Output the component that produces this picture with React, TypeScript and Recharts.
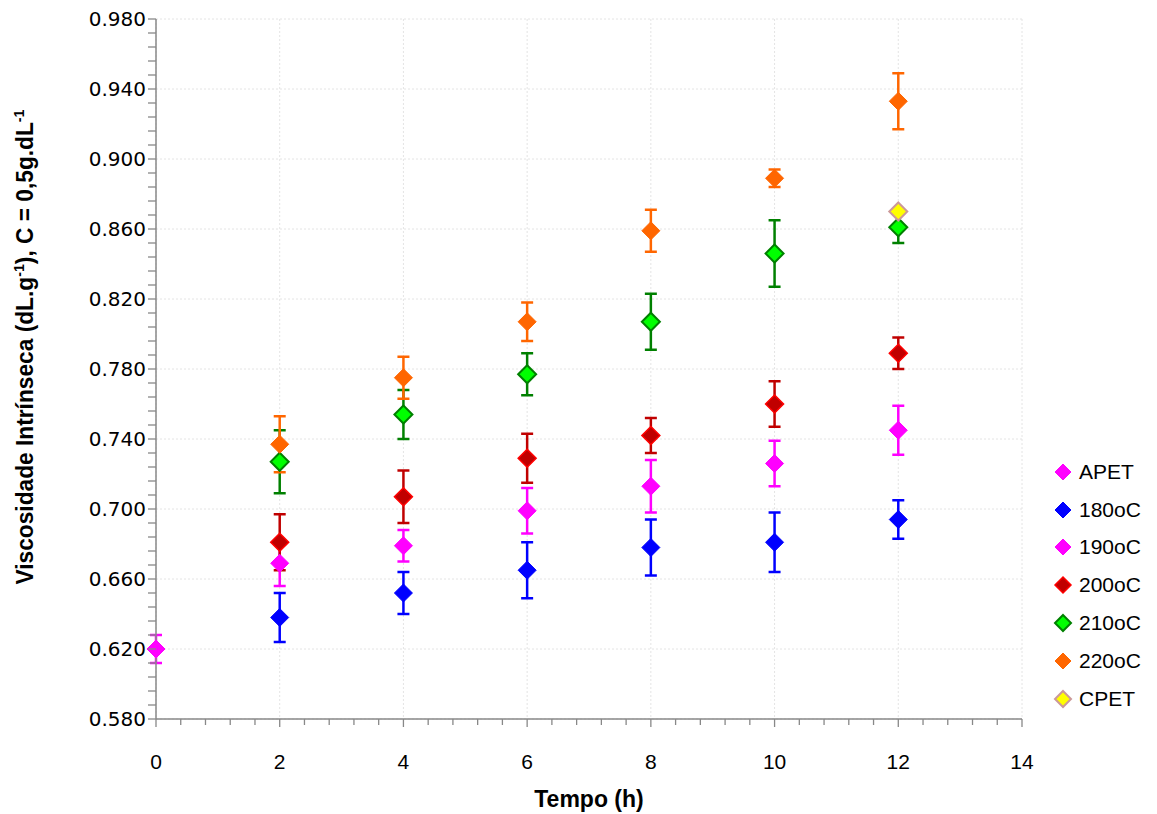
import {
  CartesianGrid,
  ErrorBar,
  Legend,
  Scatter,
  ScatterChart,
  XAxis,
  YAxis,
} from "recharts";

// tempo (h) for the annealed samples
const times = [2, 4, 6, 8, 10, 12];

const apetTime = [0];
const apetValue = [0.62];
const apetError = [0.008];

const v180 = [0.638, 0.652, 0.665, 0.678, 0.681, 0.694];
const e180 = [0.014, 0.012, 0.016, 0.016, 0.017, 0.011];

const v190 = [0.669, 0.679, 0.699, 0.713, 0.726, 0.745];
const e190 = [0.013, 0.009, 0.013, 0.015, 0.013, 0.014];

const v200 = [0.681, 0.707, 0.729, 0.742, 0.76, 0.789];
const e200 = [0.016, 0.015, 0.014, 0.01, 0.013, 0.009];

const v210 = [0.727, 0.754, 0.777, 0.807, 0.846, 0.861];
const e210 = [0.018, 0.014, 0.012, 0.016, 0.019, 0.009];

const v220 = [0.737, 0.775, 0.807, 0.859, 0.889, 0.933];
const e220 = [0.016, 0.012, 0.011, 0.012, 0.005, 0.016];

const cpetTime = [12];
const cpetValue = [0.87];

const xTickLabels = [0, 2, 4, 6, 8, 10, 12, 14];
const yTickLabels = [
  0.58, 0.62, 0.66, 0.7, 0.74, 0.78, 0.82, 0.86, 0.9, 0.94, 0.98,
];

// minor ticks: 5 per major interval, like the Excel original
const xMinor = Array.from({ length: 36 }, (_, i) => +(i * 0.4).toFixed(1));
const yMinor = Array.from({ length: 51 }, (_, i) => +(0.58 + i * 0.008).toFixed(3));

type Pt = { x: number; y: number; err: number };

const toPoints = (xs: number[], ys: number[], es?: number[]): Pt[] =>
  xs.map((x, i) => ({ x, y: ys[i], err: es ? es[i] : 0 }));

type Series = {
  name: string;
  data: Pt[];
  fill: string;
  stroke: string;
  strokeWidth: number;
  bar?: string;
};

const series: Series[] = [
  { name: "APET", data: toPoints(apetTime, apetValue, apetError), fill: "#FF00FF", stroke: "#FF00FF", strokeWidth: 1, bar: "#FF00FF" },
  { name: "180oC", data: toPoints(times, v180, e180), fill: "#0000FF", stroke: "#0000FF", strokeWidth: 1, bar: "#0000FF" },
  { name: "190oC", data: toPoints(times, v190, e190), fill: "#FF00FF", stroke: "#FF00FF", strokeWidth: 1, bar: "#FF00FF" },
  { name: "200oC", data: toPoints(times, v200, e200), fill: "#C00000", stroke: "#FF0000", strokeWidth: 1.5, bar: "#C00000" },
  { name: "210oC", data: toPoints(times, v210, e210), fill: "#00FF00", stroke: "#008000", strokeWidth: 2, bar: "#008000" },
  { name: "220oC", data: toPoints(times, v220, e220), fill: "#FF6600", stroke: "#FF6600", strokeWidth: 1, bar: "#FF6600" },
  { name: "CPET", data: toPoints(cpetTime, cpetValue), fill: "#FFFF00", stroke: "#CC9999", strokeWidth: 2 },
];

const AXIS = "#888888";
const isMajor = (v: number, list: number[]) =>
  list.some((t) => Math.abs(t - v) < 1e-6);

function Diamond(props: {
  cx?: number;
  cy?: number;
  r?: number;
  fill: string;
  stroke: string;
  strokeWidth: number;
}) {
  const { cx = 0, cy = 0, r = 9 } = props;
  return (
    <polygon
      points={`${cx},${cy - r} ${cx + r},${cy} ${cx},${cy + r} ${cx - r},${cy}`}
      fill={props.fill}
      stroke={props.stroke}
      strokeWidth={props.strokeWidth}
      strokeLinejoin="miter"
    />
  );
}

function XTick(props: any) {
  const { x, y, payload } = props;
  const major = isMajor(payload.value, xTickLabels);
  return (
    <g>
      <line x1={x} y1={y} x2={x} y2={y + (major ? 8 : 6)} stroke={AXIS} strokeWidth={1.3} />
      {major && (
        <text x={x} y={y + 50} textAnchor="middle" fontSize={21} fill="#000">
          {payload.value}
        </text>
      )}
    </g>
  );
}

function YTick(props: any) {
  const { x, y, payload } = props;
  const major = isMajor(payload.value, yTickLabels);
  return (
    <g>
      <line x1={x - 8} y1={y} x2={x} y2={y} stroke={AXIS} strokeWidth={1.3} />
      {major && (
        <text
          x={x - 10}
          y={y + 7}
          textAnchor="end"
          fontSize={20}
          fontFamily="DejaVu Sans, Verdana, sans-serif"
          fill="#000"
        >
          {payload.value.toFixed(3)}
        </text>
      )}
    </g>
  );
}

function LegendBox() {
  return (
    <div style={{ fontFamily: "Liberation Sans, Arial, sans-serif", fontSize: 21 }}>
      {series.map((s) => (
        <div key={s.name} style={{ display: "flex", alignItems: "center", height: 37.8 }}>
          <svg width={22} height={22} style={{ marginRight: 5 }}>
            <Diamond cx={11} cy={11} r={8} fill={s.fill} stroke={s.stroke} strokeWidth={s.strokeWidth} />
          </svg>
          <span>{s.name}</span>
        </div>
      ))}
    </div>
  );
}

export default function App() {
  return (
    <div
      style={{
        position: "absolute",
        left: 0,
        top: 0,
        width: 1157,
        height: 814,
        background: "#fff",
        fontFamily: "Liberation Sans, Arial, sans-serif",
      }}
    >
      <ScatterChart
        width={1157}
        height={814}
        margin={{ top: 19, right: 135, left: 46, bottom: 0 }}
      >
        <CartesianGrid
          stroke="#e4e4e4"
          strokeDasharray="2 2"
          horizontalValues={yTickLabels}
          verticalValues={xTickLabels}
        />
        <XAxis
          type="number"
          dataKey="x"
          domain={[0, 14]}
          ticks={xMinor}
          interval={0}
          height={95}
          tickSize={0}
          tickMargin={0}
          tickLine={false}
          axisLine={{ stroke: AXIS, strokeWidth: 1.5 }}
          tick={<XTick />}
          label={{
            content: (p: any) => {
              const vb = p.viewBox || { x: 156, y: 719, width: 866 };
              return (
                <text
                  x={vb.x + vb.width / 2}
                  y={vb.y + 88}
                  textAnchor="middle"
                  fontSize={23}
                  fontWeight="bold"
                  fill="#000"
                >
                  Tempo (h)
                </text>
              );
            },
          }}
        />
        <YAxis
          type="number"
          dataKey="y"
          domain={[0.58, 0.98]}
          ticks={yMinor}
          interval={0}
          width={110}
          tickSize={0}
          tickMargin={0}
          tickLine={false}
          axisLine={{ stroke: AXIS, strokeWidth: 1.5 }}
          tick={<YTick />}
          label={{
            content: () => (
              <text
                x={33}
                y={347}
                transform="rotate(-90, 33, 347)"
                textAnchor="middle"
                fontSize={24}
                fontWeight="bold"
                fill="#000"
                textLength={475}
                lengthAdjust="spacingAndGlyphs"
              >
                Viscosidade Intrínseca (dL.g
                <tspan dy={-9} fontSize={15}>-1</tspan>
                <tspan dy={9}>), C = 0,5g.dL</tspan>
                <tspan dy={-9} fontSize={15}>-1</tspan>
              </text>
            ),
          }}
        />
        <Legend
          layout="horizontal"
          verticalAlign="middle"
          align="center"
          content={<LegendBox />}
          wrapperStyle={{ left: 1052, top: 453, width: 105 }}
        />
        {series.map((s) => (
          <Scatter
            key={s.name}
            name={s.name}
            data={s.data}
            fill={s.fill}
            isAnimationActive={false}
            shape={(p: any) => (
              <Diamond cx={p.cx} cy={p.cy} fill={s.fill} stroke={s.stroke} strokeWidth={s.strokeWidth} />
            )}
          >
            {s.bar && (
              <ErrorBar
                dataKey="err"
                direction="y"
                width={6}
                strokeWidth={2.5}
                stroke={s.bar}
                isAnimationActive={false}
              />
            )}
          </Scatter>
        ))}
      </ScatterChart>
    </div>
  );
}
